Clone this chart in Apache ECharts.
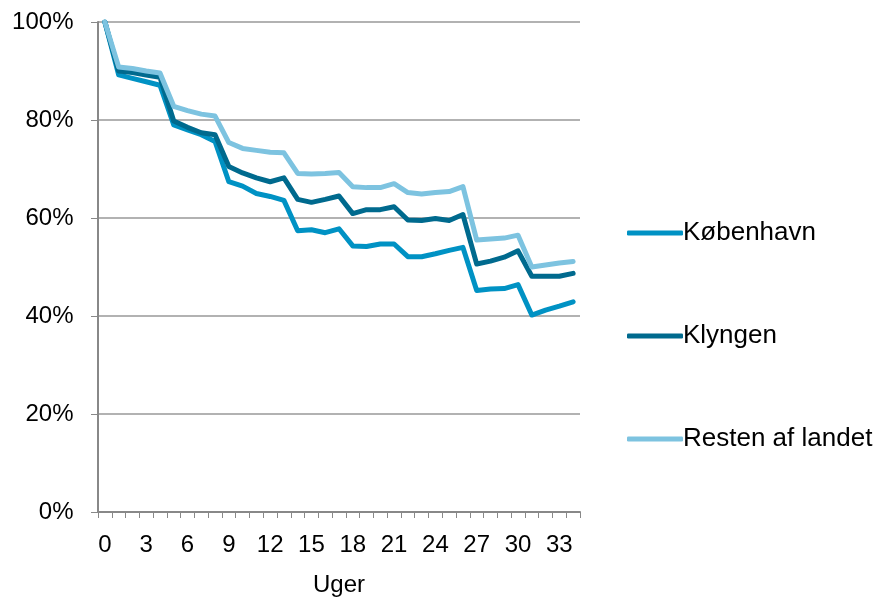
<!DOCTYPE html>
<html>
<head>
<meta charset="utf-8">
<script src="https://cdn.jsdelivr.net/npm/echarts@6/dist/echarts.min.js"></script>
<style>html,body{margin:0;padding:0;background:#fff}#c{width:878px;height:597px}</style>
</head>
<body>
<div id="c"></div>
<script>
const weeks = Array.from({length: 35}, (_, i) => String(i));
const kobenhavn = [100, 89.2, 88.5, 87.8, 87.1, 79.0, 78.0, 77.0, 75.6, 67.4, 66.5, 65.0, 64.4, 63.6, 57.4, 57.6, 57.0, 57.8, 54.3, 54.2, 54.7, 54.7, 52.1, 52.1, 52.7, 53.4, 54.0, 45.2, 45.5, 45.6, 46.4, 40.2, 41.2, 42.0, 42.9];
const klyngen = [100, 90.0, 89.7, 89.2, 88.7, 79.8, 78.5, 77.4, 77.0, 70.5, 69.2, 68.2, 67.4, 68.2, 63.8, 63.2, 63.8, 64.5, 60.9, 61.7, 61.7, 62.3, 59.6, 59.5, 59.9, 59.5, 60.7, 50.6, 51.2, 52.0, 53.3, 48.1, 48.1, 48.1, 48.7];
const resten = [100, 90.8, 90.5, 90.0, 89.6, 82.8, 81.9, 81.2, 80.8, 75.4, 74.2, 73.8, 73.4, 73.3, 69.1, 69.0, 69.1, 69.3, 66.4, 66.2, 66.2, 67.0, 65.2, 64.9, 65.2, 65.4, 66.4, 55.5, 55.7, 55.9, 56.5, 50.0, 50.4, 50.8, 51.1];
const seriesNames = ['København', 'Klyngen', 'Resten af landet'];
const colors = ['#0092C4', '#006A8E', '#7DC3E0'];
const font = 'Liberation Sans, Arial, sans-serif';

const chart = echarts.init(document.getElementById('c'));
const mk = (name, data, color) => ({
  name, type: 'line', data, symbol: 'none', smooth: false,
  lineStyle: {width: 5, color, cap: 'round', join: 'round'},
  itemStyle: {color}
});
chart.setOption({
  animation: false,
  textStyle: {fontFamily: font},
  grid: {left: 98, right: 298, top: 22, bottom: 85, containLabel: false, outerBoundsMode: 'none'},
  legend: {
    orient: 'vertical', left: 622, top: 215,
    itemWidth: 56, itemHeight: 5, itemGap: 77,
    icon: 'roundRect',
    textStyle: {fontSize: 26, color: '#000', fontFamily: font, padding: [0,0,0,-5]},
    data: seriesNames
  },
  xAxis: {
    type: 'category', data: weeks, boundaryGap: true,
    name: 'Uger', nameLocation: 'middle', nameGap: 61,
    nameTextStyle: {fontSize: 24, color: '#000', fontFamily: font},
    axisLine: {lineStyle: {color: '#888', width: 2}},
    axisTick: {show: true, interval: 0, length: 6, lineStyle: {color: '#888', width: 1}},
    axisLabel: {interval: 2, fontSize: 24, color: '#000', fontFamily: font, margin: 21}
  },
  yAxis: {
    type: 'value', min: 0, max: 100, interval: 20,
    axisLine: {show: true, lineStyle: {color: '#888', width: 2}},
    axisTick: {show: true, length: 7, lineStyle: {color: '#888'}},
    axisLabel: {formatter: '{value}%', fontSize: 24, color: '#000', fontFamily: font, margin: 24.5},
    splitLine: {lineStyle: {color: '#999', width: 1.5}}
  },
  series: [
    mk(seriesNames[0], kobenhavn, colors[0]),
    mk(seriesNames[1], klyngen, colors[1]),
    mk(seriesNames[2], resten, colors[2])
  ]
});
</script>
</body>
</html>
